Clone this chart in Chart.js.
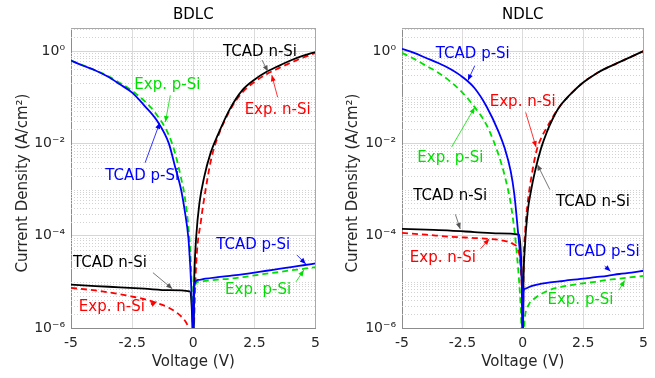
<!DOCTYPE html>
<html>
<head>
<meta charset="utf-8">
<script src="https://cdn.jsdelivr.net/npm/chart.js@4.4.1/dist/chart.umd.min.js"></script>
<style>
  html, body { margin: 0; padding: 0; background: #fff; }
  #wrap { position: relative; width: 655px; height: 378px; }
  canvas { position: absolute; top: 0; }
</style>
</head>
<body>
<div id="wrap">
  <canvas id="bdlc" width="327" height="378" style="left:0"></canvas>
  <canvas id="ndlc" width="328" height="378" style="left:327px"></canvas>
</div>
<script>
// ---- data (voltage in V, current density in A/cm^2) ----
const xTicks = [-5, -2.5, 0, 2.5, 5];
const yTickValues = [1, 1e-2, 1e-4, 1e-6];
const yTickLabels = ['10⁰', '10⁻²', '10⁻⁴', '10⁻⁶'];

// BDLC panel
const bdlcTcadPV = [-5,-4.5,-4,-3.5,-3,-2.5,-2,-1.5,-1,-0.75,-0.5,-0.35,-0.2,-0.12,-0.07,-0.03,0,0.03,0.05,0.2,0.5,1,1.5,2,2.5,3,3.5,4,4.5,5];
const bdlcTcadPJ = [0.62,0.48,0.38,0.28,0.19,0.126,0.066,0.032,1.0e-2,3.2e-3,1.0e-3,3.5e-4,8.9e-5,2.0e-5,5.6e-6,1.6e-6,3.2e-7,4.0e-6,8.9e-6,1.1e-5,1.17e-5,1.26e-5,1.35e-5,1.45e-5,1.58e-5,1.74e-5,1.9e-5,2.09e-5,2.29e-5,2.51e-5];
const bdlcExpPV = [-5,-4.5,-4,-3.5,-3,-2.5,-2,-1.5,-1,-0.75,-0.5,-0.35,-0.2,-0.12,-0.07,-0.03,0,0.03,0.06,0.2,0.5,1,1.5,2,2.5,3,3.5,4,4.5,5];
const bdlcExpPJ = [0.62,0.49,0.38,0.29,0.204,0.138,0.083,0.042,0.0151,6.3e-3,1.78e-3,7.1e-4,1.58e-4,4.5e-5,1.0e-5,2.0e-6,3.2e-7,3.2e-6,7.9e-6,1.0e-5,1.05e-5,1.12e-5,1.17e-5,1.26e-5,1.38e-5,1.51e-5,1.62e-5,1.78e-5,1.91e-5,2.09e-5];
const bdlcTcadNV = [-5,-4,-3,-2,-1,-0.14,-0.07,-0.03,0,0.03,0.05,0.12,0.25,0.45,0.7,1,1.5,2,2.5,3,3.5,4,4.5,5];
const bdlcTcadNJ = [8.7e-6,8.1e-6,7.6e-6,7.1e-6,6.6e-6,6.2e-6,3.2e-6,1.0e-6,3.2e-7,6.3e-6,1.8e-5,9.5e-5,5.0e-4,1.9e-3,6.0e-3,1.51e-2,5.6e-2,0.141,0.24,0.355,0.479,0.631,0.794,0.955];
const bdlcExpNV = [-5,-4,-3,-2.5,-2,-1.5,-1,-0.7,-0.4,-0.25,-0.15,0,0.03,0.05,0.12,0.32,0.52,0.75,1,1.5,2,2.5,3,3.5,4,4.5,5];
const bdlcExpNJ = [7.4e-6,6.5e-6,5.4e-6,4.8e-6,4.2e-6,3.5e-6,2.75e-6,2.2e-6,1.58e-6,1.2e-6,8.9e-7,3.2e-7,1.0e-6,2.5e-6,2.5e-5,2.2e-4,1.12e-3,5.0e-3,1.35e-2,5.2e-2,0.126,0.214,0.316,0.427,0.562,0.724,0.912];

// NDLC panel
const ndlcTcadPV = [-5,-4.5,-4,-3.5,-3,-2.5,-2,-1.5,-1,-0.75,-0.5,-0.35,-0.2,-0.1,-0.03,0,0.03,0.1,0.3,0.6,1,1.5,2,2.5,3,3.5,4,4.5,5];
const ndlcTcadPJ = [1.12,0.912,0.708,0.55,0.407,0.275,0.158,0.063,0.0178,7.9e-3,2.5e-3,7.9e-4,1.26e-4,3.2e-5,6.3e-6,3.2e-7,6.3e-6,7.1e-6,7.9e-6,8.7e-6,9.5e-6,1.02e-5,1.1e-5,1.17e-5,1.26e-5,1.35e-5,1.48e-5,1.58e-5,1.74e-5];
const ndlcExpPV = [-5,-4.5,-4,-3.5,-3,-2.5,-2,-1.5,-1,-0.75,-0.5,-0.3,-0.15,-0.08,-0.03,0.03,0.08,0.25,0.5,1,1.5,2,2.5,3,3.5,4,4.5,5];
const ndlcExpPJ = [0.912,0.676,0.479,0.339,0.219,0.126,0.0617,0.0251,5.6e-3,2.0e-3,5.0e-4,7.9e-5,1.0e-5,2.5e-6,5.0e-7,6.3e-7,1.58e-6,3.2e-6,4.4e-6,6.3e-6,7.6e-6,8.5e-6,9.3e-6,1.0e-5,1.1e-5,1.17e-5,1.26e-5,1.35e-5];
const ndlcTcadNV = [-5,-4,-3,-2,-1,-0.15,-0.07,-0.02,0,0.03,0.08,0.2,0.35,0.5,0.75,1,1.25,1.5,2,2.5,3,3.5,4,4.5,5];
const ndlcTcadNJ = [1.41e-4,1.35e-4,1.29e-4,1.2e-4,1.12e-4,1.05e-4,3.2e-5,3.2e-6,3.2e-7,1.0e-5,5.0e-5,3.2e-4,1.0e-3,2.4e-3,7.6e-3,1.78e-2,3.5e-2,6.0e-2,0.12,0.209,0.316,0.437,0.575,0.759,1.0];
const ndlcExpNV = [-5,-4,-3,-2,-1.4,-0.8,-0.4,-0.2,-0.1,-0.03,0,0.03,0.1,0.2,0.35,0.55,0.75,1,1.25,1.5,2,2.5,3,3.5,4,4.5,5];
const ndlcExpNJ = [1.15e-4,1.05e-4,9.5e-5,8.9e-5,8.5e-5,7.8e-5,6.6e-5,5.0e-5,2.5e-5,4.0e-6,3.2e-7,1.58e-5,1.26e-4,5.0e-4,1.78e-3,6.3e-3,1.26e-2,2.24e-2,3.8e-2,6.0e-2,0.12,0.209,0.316,0.437,0.575,0.759,1.0];

// text labels with arrows: [text, colour, label at (V,J), arrow from, arrow to]
const bdlcNotes = [
  ['TCAD n-Si', '#000000', [2.73, 0.95], [2.81, 0.64], [3.05, 0.36]],
  ['Exp. n-Si', '#ff0000', [3.45, 0.053], [3.45, 0.1], [3.21, 0.3]],
  ['Exp. p-Si', '#00e000', [-1.06, 0.18], [-0.94, 0.11], [-1.14, 0.029]],
  ['TCAD p-Si', '#0000ff', [-2.09, 0.002], [-1.97, 0.0038], [-1.37, 0.028]],
  ['TCAD p-Si', '#0000ff', [2.45, 6.3e-5], [4.24, 3.8e-5], [4.6, 2.45e-5]],
  ['Exp. p-Si', '#00e000', [2.65, 6.7e-6], [4.2, 1e-5], [4.52, 1.8e-5]],
  ['TCAD n-Si', '#000000', [-3.41, 2.6e-5], [-1.65, 1.58e-5], [-0.86, 7.1e-6]],
  ['Exp. n-Si', '#ff0000', [-3.33, 2.9e-6], [-1.73, 3.2e-6], [-1.49, 3.7e-6]]
];
const ndlcNotes = [
  ['TCAD p-Si', '#0000ff', [-2.07, 0.87], [-1.99, 0.48], [-2.27, 0.23]],
  ['Exp. n-Si', '#ff0000', [0.0, 0.077], [0.12, 0.047], [0.55, 8.3e-3]],
  ['Exp. p-Si', '#00e000', [-3.0, 4.7e-3], [-2.95, 8.3e-3], [-1.99, 0.06]],
  ['TCAD n-Si', '#000000', [2.91, 5.3e-4], [1.12, 1e-3], [0.6, 3.5e-3]],
  ['TCAD n-Si', '#000000', [-3.0, 7.1e-4], [-2.79, 2.9e-4], [-2.59, 1.4e-4]],
  ['Exp. n-Si', '#ff0000', [-3.31, 3.2e-5], [-1.75, 5.2e-5], [-1.39, 8.5e-5]],
  ['TCAD p-Si', '#0000ff', [3.31, 4.5e-5], [3.39, 2.2e-5], [3.63, 1.7e-5]],
  ['Exp. p-Si', '#00e000', [2.39, 4e-6], [3.98, 6.6e-6], [4.22, 1.07e-5]]
];

Chart.defaults.font.family = '"DejaVu Sans", sans-serif';
Chart.defaults.color = '#262626';

function pts(xs, ys) { return xs.map((v, i) => ({ x: v, y: ys[i] })); }

function isMajor(v) {
  return yTickValues.some(t => Math.abs(Math.log10(v) - Math.log10(t)) < 1e-6);
}

const decor = {
  id: 'decor',
  beforeDatasetsDraw(chart) {
    // dotted minor grid on the log axis
    const { ctx, chartArea: a, scales: { y } } = chart;
    ctx.save();
    ctx.strokeStyle = '#d2d2d2';
    ctx.lineWidth = 1;
    ctx.setLineDash([1, 2]);
    y.ticks.forEach(t => {
      if (isMajor(t.value)) return;
      const py = Math.round(y.getPixelForValue(t.value)) + 0.5;
      ctx.beginPath();
      ctx.moveTo(a.left, py);
      ctx.lineTo(a.right, py);
      ctx.stroke();
    });
    ctx.restore();
  },
  afterDatasetsDraw(chart, args, opts) {
    const { ctx, chartArea: a, scales: { x, y } } = chart;
    ctx.save();
    // top and right edges of the box
    ctx.strokeStyle = '#a8a8a8';
    ctx.lineWidth = 1;
    ctx.beginPath();
    ctx.moveTo(a.left, Math.round(a.top) + 0.5);
    ctx.lineTo(a.right, Math.round(a.top) + 0.5);
    ctx.moveTo(Math.round(a.right) - 0.5, a.top);
    ctx.lineTo(Math.round(a.right) - 0.5, a.bottom);
    ctx.stroke();

    // labels + arrows
    ctx.font = '15px "DejaVu Sans"';
    ctx.textAlign = 'center';
    ctx.textBaseline = 'middle';
    opts.notes.forEach(([txt, col, at, from, to]) => {
      ctx.fillStyle = col;
      ctx.fillText(txt, x.getPixelForValue(at[0]), y.getPixelForValue(at[1]));
      const x0 = x.getPixelForValue(from[0]), y0 = y.getPixelForValue(from[1]);
      const x1 = x.getPixelForValue(to[0]), y1 = y.getPixelForValue(to[1]);
      const ang = Math.atan2(y1 - y0, x1 - x0);
      ctx.strokeStyle = col === '#000000' ? '#555' : col;
      ctx.lineWidth = 0.8;
      ctx.beginPath();
      ctx.moveTo(x0, y0);
      ctx.lineTo(x1, y1);
      ctx.stroke();
      ctx.fillStyle = ctx.strokeStyle;
      ctx.beginPath();
      ctx.moveTo(x1, y1);
      ctx.lineTo(x1 - 6 * Math.cos(ang) + 2.5 * Math.sin(ang), y1 - 6 * Math.sin(ang) - 2.5 * Math.cos(ang));
      ctx.lineTo(x1 - 6 * Math.cos(ang) - 2.5 * Math.sin(ang), y1 - 6 * Math.sin(ang) + 2.5 * Math.cos(ang));
      ctx.closePath();
      ctx.fill();
    });

    // titles
    const cx = (a.left + a.right) / 2;
    ctx.fillStyle = '#000';
    ctx.font = '15px "DejaVu Sans"';
    ctx.fillText(opts.title, cx, 15);
    ctx.fillStyle = '#262626';
    ctx.fillText('Voltage (V)', cx, 362);
    ctx.translate(opts.yTitleX, 183);
    ctx.rotate(-Math.PI / 2);
    ctx.fillText('Current Density (A/cm²)', 0, 0);
    ctx.restore();
  }
};

function makeChart(id, title, sets, notes, yTitleX, yWidth, padRight) {
  const [tp, ep, tn, en] = sets;
  const line = (data, color, dashed) => ({
    data, borderColor: color, borderWidth: 1.8,
    borderDash: dashed ? [6, 4] : [],
    pointRadius: 0, fill: false, cubicInterpolationMode: 'monotone'
  });
  return new Chart(document.getElementById(id), {
    type: 'line',
    data: {
      datasets: [
        line(tp, '#0000ff', false),
        line(tn, '#000000', false),
        line(ep, '#00e000', true),
        line(en, '#ff0000', true)
      ]
    },
    options: {
      responsive: false,
      animation: false,
      layout: { padding: { left: 0, right: padRight, top: 28, bottom: 0 } },
      plugins: {
        legend: { display: false },
        tooltip: { enabled: false },
        decor: { title, notes, yTitleX }
      },
      scales: {
        x: {
          type: 'linear', min: -5, max: 5,
          afterBuildTicks: s => { s.ticks = xTicks.map(v => ({ value: v })); },
          afterFit: s => { s.height = 50; },
          ticks: { font: { size: 14 }, padding: 7, color: '#262626' },
          grid: { drawTicks: false, color: '#dcdcdc' },
          border: { color: '#8c8c8c' }
        },
        y: {
          type: 'logarithmic', min: 1e-6, max: 3.16,
          afterBuildTicks: s => {
            const t = [];
            for (let e = -6; e <= 0; e++) {
              for (let k = 1; k <= 9; k++) {
                const v = k * Math.pow(10, e);
                if (v <= s.max) t.push({ value: v });
              }
            }
            s.ticks = t;
          },
          afterFit: s => { s.width = yWidth; },
          ticks: {
            autoSkip: false, font: { size: 14 }, padding: 6, color: '#262626',
            callback: v => {
              const i = yTickValues.findIndex(t => Math.abs(Math.log10(v) - Math.log10(t)) < 1e-6);
              return i >= 0 ? yTickLabels[i] : '';
            }
          },
          grid: {
            drawTicks: false,
            color: c => (c.tick && isMajor(c.tick.value)) ? '#d6d6d6' : 'rgba(0,0,0,0)'
          },
          border: { color: '#8c8c8c' }
        }
      }
    },
    plugins: [decor]
  });
}

makeChart('bdlc', 'BDLC',
  [pts(bdlcTcadPV, bdlcTcadPJ), pts(bdlcExpPV, bdlcExpPJ), pts(bdlcTcadNV, bdlcTcadNJ), pts(bdlcExpNV, bdlcExpNJ)],
  bdlcNotes, 23, 71, 5);
makeChart('ndlc', 'NDLC',
  [pts(ndlcTcadPV, ndlcTcadPJ), pts(ndlcExpPV, ndlcExpPJ), pts(ndlcTcadNV, ndlcTcadNJ), pts(ndlcExpNV, ndlcExpNJ)],
  ndlcNotes, 26, 75, 2);
</script>
</body>
</html>
